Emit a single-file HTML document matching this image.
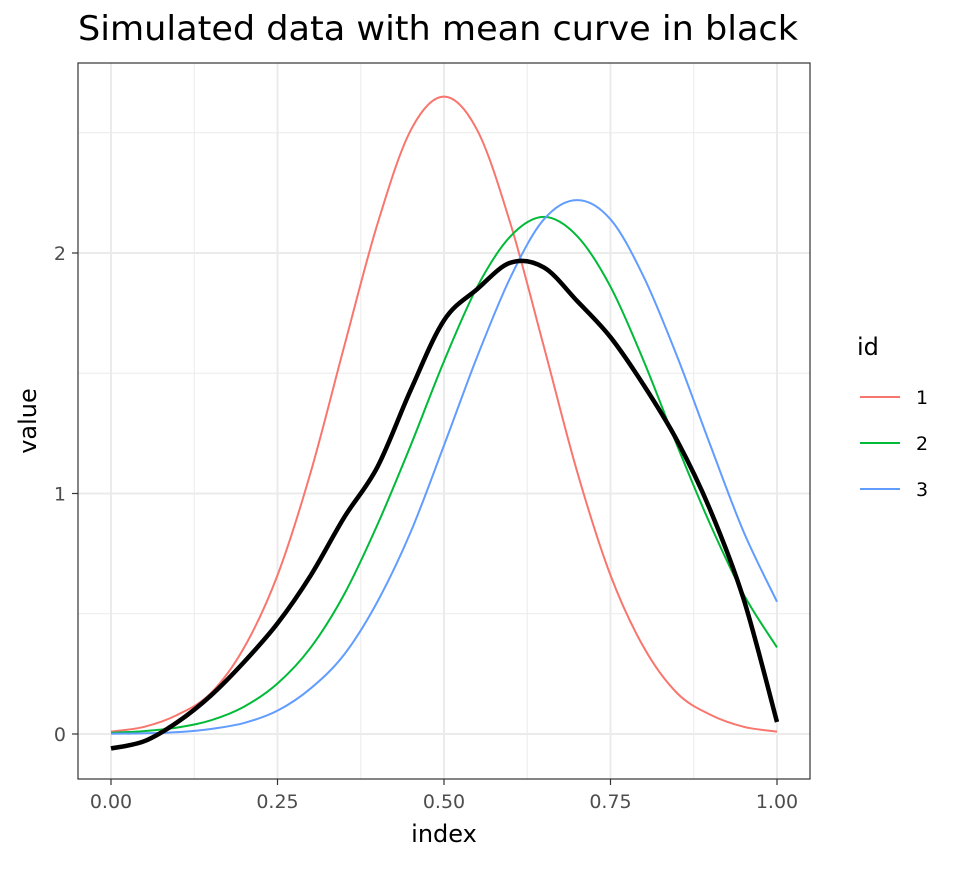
<!DOCTYPE html>
<html><head><meta charset="utf-8"><style>
body{margin:0;background:#fff;}
svg text{font-family:"DejaVu Sans","Liberation Sans",sans-serif;}
</style></head><body>
<svg id="chart" width="960" height="865" xmlns="http://www.w3.org/2000/svg">
<rect width="960" height="865" fill="#fff"/>
<text x="78" y="40" font-size="34" fill="#000" textLength="720" lengthAdjust="spacingAndGlyphs">Simulated data with mean curve in black</text>
<g id="grid"></g>
<g id="series"></g>
<rect x="78" y="63" width="732" height="716" fill="none" stroke="#333" stroke-width="1.2"/>
<g id="axes"></g>
<text x="444" y="842" font-size="24" text-anchor="middle" fill="#000">index</text>
<text transform="translate(36,421) rotate(-90)" font-size="24" text-anchor="middle" fill="#000">value</text>
<g>
<text x="857" y="355" font-size="24" fill="#000">id</text>
<line x1="860" y1="397" x2="900" y2="397" stroke="#F8766D" stroke-width="2"/>
<text x="916" y="404" font-size="19" fill="#000">1</text>
<line x1="860" y1="443" x2="900" y2="443" stroke="#00BA38" stroke-width="2"/>
<text x="916" y="450" font-size="19" fill="#000">2</text>
<line x1="860" y1="489" x2="900" y2="489" stroke="#619CFF" stroke-width="2"/>
<text x="916" y="496" font-size="19" fill="#000">3</text>
</g>
</svg>
<script>
const indexValues=[0,0.05,0.1,0.15,0.2,0.25,0.3,0.35,0.4,0.45,0.5,0.55,0.6,0.65,0.7,0.75,0.8,0.85,0.9,0.95,1];
const series1=[0.01,0.03,0.08,0.17,0.36,0.66,1.09,1.61,2.12,2.51,2.65,2.51,2.12,1.61,1.09,0.66,0.36,0.17,0.08,0.03,0.01];
const series2=[0.005,0.012,0.027,0.057,0.114,0.21,0.36,0.58,0.87,1.20,1.55,1.86,2.07,2.15,2.07,1.86,1.55,1.20,0.87,0.58,0.36];
const series3=[0.001,0.003,0.008,0.021,0.046,0.097,0.19,0.33,0.55,0.84,1.20,1.57,1.90,2.14,2.22,2.14,1.90,1.57,1.20,0.84,0.55];
const meanCurve=[-0.06,-0.03,0.05,0.16,0.30,0.46,0.66,0.90,1.11,1.43,1.72,1.85,1.96,1.94,1.80,1.65,1.45,1.22,0.93,0.56,0.05];
const xTicks=[0,0.25,0.5,0.75,1];
const xTickLabels=["0.00","0.25","0.50","0.75","1.00"];
const yTicks=[0,1,2];
const yTickLabels=["0","1","2"];
const xMinor=[0.125,0.375,0.625,0.875];
const yMinor=[0.5,1.5,2.5];

const NS="http://www.w3.org/2000/svg";
function sx(v){return 111+v*666;}
function sy(v){return 734-v*240.5;}
function mk(tag,attrs,parent){const e=document.createElementNS(NS,tag);for(const k in attrs)e.setAttribute(k,attrs[k]);parent.appendChild(e);return e;}
const grid=document.getElementById('grid'),axes=document.getElementById('axes'),ser=document.getElementById('series');
mk('rect',{x:78,y:63,width:732,height:716,fill:'#fff'},grid);
xMinor.forEach(v=>{const l=mk('line',{x1:sx(v),x2:sx(v),y1:63,y2:779,stroke:'#ebebeb','stroke-width':1},grid);

});
yMinor.forEach(v=>{const l=mk('line',{x1:78,x2:810,y1:sy(v),y2:sy(v),stroke:'#ebebeb','stroke-width':1},grid);

});
xTicks.forEach((v,i)=>{const l=mk('line',{x1:sx(v),x2:sx(v),y1:63,y2:779,stroke:'#ebebeb','stroke-width':2},grid);


const t=mk('line',{x1:sx(v),x2:sx(v),y1:779,y2:785,stroke:'#333','stroke-width':1.2},axes);


const tx=mk('text',{x:sx(v),y:808,'font-size':19,'text-anchor':'middle',fill:'#4d4d4d'},axes);tx.textContent=xTickLabels[i];

});
yTicks.forEach((v,i)=>{const l=mk('line',{x1:78,x2:810,y1:sy(v),y2:sy(v),stroke:'#ebebeb','stroke-width':2},grid);


const t=mk('line',{x1:72,x2:78,y1:sy(v),y2:sy(v),stroke:'#333','stroke-width':1.2},axes);


const tx=mk('text',{x:66,y:sy(v)+7,'font-size':19,'text-anchor':'end',fill:'#4d4d4d'},axes);tx.textContent=yTickLabels[i];

});
function pathFor(ys){const p=indexValues.map((x,i)=>[sx(x),sy(ys[i])]);let d='M'+p[0][0]+','+p[0][1];
for(let i=0;i<p.length-1;i++){const p0=p[Math.max(0,i-1)],p1=p[i],p2=p[i+1],p3=p[Math.min(p.length-1,i+2)];
const c1=[p1[0]+(p2[0]-p0[0])/6,p1[1]+(p2[1]-p0[1])/6],c2=[p2[0]-(p3[0]-p1[0])/6,p2[1]-(p3[1]-p1[1])/6];
d+=' C'+c1[0]+','+c1[1]+' '+c2[0]+','+c2[1]+' '+p2[0]+','+p2[1];}return d;}
[[series1,'#F8766D','series-1-line'],[series2,'#00BA38','series-2-line'],[series3,'#619CFF','series-3-line']].forEach(s=>{
const e=mk('path',{d:pathFor(s[0]),fill:'none',stroke:s[1],'stroke-width':2},ser);

});
const m=mk('path',{d:pathFor(meanCurve),fill:'none',stroke:'#000','stroke-width':4.5},ser);


</script>
</body></html>
